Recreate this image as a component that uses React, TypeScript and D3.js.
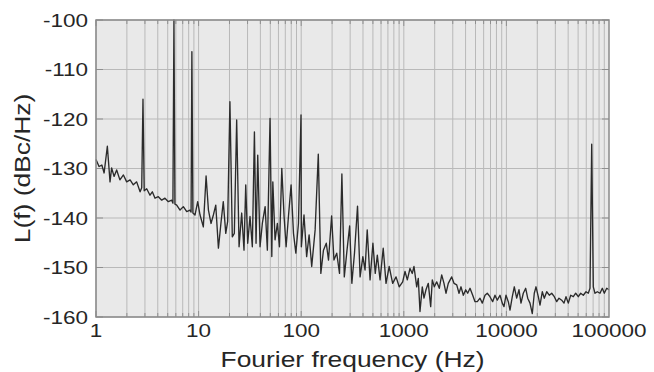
import React from "react";
import * as d3 from "d3";

// phase noise trace as [Hz, dBc/Hz], one decade per array
const decade1 = [
  [1.0, -128.2], [1.07, -129.6], [1.14, -129.3], [1.2, -130.9], [1.29, -125.5],
  [1.37, -132.7], [1.42, -129.9], [1.5, -131.6], [1.59, -130.3], [1.71, -132.3],
  [1.85, -131.3], [1.99, -132.7], [2.15, -132.3], [2.31, -133.3], [2.49, -132.7],
  [2.69, -134.7], [2.79, -133.9], [2.87, -116.0], [2.95, -134.5], [3.12, -134.1],
  [3.36, -135.4], [3.54, -134.7], [3.76, -136.0], [4.05, -135.7], [4.37, -136.4],
  [4.7, -136.0], [5.07, -136.7], [5.47, -136.4], [5.62, -137.0], [5.75, -100.0],
  [5.88, -137.2], [6.12, -137.4], [6.59, -138.4], [7.1, -137.7], [7.66, -138.7],
  [8.25, -138.4], [8.45, -138.8], [8.6, -106.4], [8.8, -139.0], [9.22, -139.4],
  [9.8, -136.7],
];
const decade2 = [
  [10.33, -139.4], [11.12, -141.8], [11.83, -131.5], [12.47, -138.4], [13.21, -141.1],
  [13.93, -139.4], [14.7, -137.4], [15.6, -146.1], [16.5, -141.1], [17.4, -136.7],
  [18.4, -143.1], [19.2, -140.7], [20.2, -116.5], [21.3, -143.8], [22.3, -143.1],
  [23.5, -120.2], [24.8, -145.8], [26.3, -139.0], [27.7, -146.5], [28.8, -133.3],
  [30.1, -145.1], [31.7, -139.7], [33.4, -145.8], [35.0, -122.6], [36.3, -145.1],
  [37.7, -127.3], [39.7, -145.8], [41.8, -141.1], [44.5, -137.7], [46.8, -146.5],
  [49.7, -119.9], [51.7, -147.8], [52.9, -132.7], [55.6, -144.4], [58.6, -141.1],
  [61.4, -145.8], [64.7, -130.0], [68.1, -139.7], [71.3, -145.8], [75.1, -139.7],
  [79.7, -133.3], [84.1, -143.1], [88.7, -147.1], [94.0, -141.1], [99.6, -119.2],
];
const decade3 = [
  [100.4, -145.8], [106.5, -139.4], [113, -147.8], [119.4, -143.4], [126.6, -149.8],
  [136.7, -142.4], [146.8, -127.1], [155.4, -151.2], [164.8, -146.5], [175.6, -145.1],
  [184.6, -148.5], [197.9, -139.6], [208.5, -148.5], [222, -147.1], [236.3, -151.2],
  [249.2, -131.1], [263, -151.9], [279.6, -146.5], [296.7, -141.6], [311.7, -153.2],
  [330.6, -147.1], [354, -137.6], [375, -151.9], [399, -147.8], [419, -150.5],
  [440, -142.4], [469, -152.5], [500, -145.1], [527, -151.2], [552, -147.5],
  [587, -152.5], [630, -146.1], [671, -153.2], [720, -149.8], [779, -153.2],
  [840, -151.9], [902, -153.9],
];
const decade4 = [
  [975, -152.9], [1028, -150.8], [1082, -152.5], [1149, -150.2], [1210, -151.2],
  [1257, -149.8], [1336, -153.9], [1384, -152.2], [1438, -158.9], [1514, -153.9],
  [1573, -156.2], [1645, -154.5], [1733, -153.2], [1828, -157.9], [1896, -152.5],
  [1983, -153.9], [2092, -152.9], [2218, -154.2], [2341, -151.5], [2464, -153.2],
  [2577, -155.2], [2714, -153.2], [2930, -151.9], [3085, -153.2], [3279, -153.5],
  [3453, -155.2], [3612, -153.9], [3805, -155.6], [4012, -154.5], [4194, -155.2],
  [4420, -154.2], [4694, -155.6], [4945, -156.9], [5207, -156.9], [5530, -156.2],
  [5826, -157.2], [6187, -155.6], [6510, -155.2], [6914, -155.9], [7344, -156.9],
  [7738, -155.6], [8153, -156.6], [8660, -155.6], [9120, -157.2], [9476, -157.9],
];
const decade5 = [
  [9911, -155.6], [10435, -156.9], [10842, -158.6], [11416, -155.9], [11940, -153.9],
  [12600, -156.2], [13270, -154.5], [13880, -157.2], [14610, -155.2], [15420, -154.2],
  [16130, -156.2], [16980, -157.2], [17880, -159.3], [18700, -155.2], [19430, -153.9],
  [20460, -155.9], [21260, -157.6], [22380, -154.9], [23410, -156.2], [24710, -154.9],
  [26190, -155.6], [27640, -155.2], [29310, -155.9], [30930, -156.9], [32560, -156.2],
  [34590, -156.6], [36420, -157.2], [38090, -155.9], [40120, -157.2], [42330, -155.6],
  [44870, -155.9], [47360, -155.2], [50210, -155.9], [53000, -155.2], [56180, -155.6],
  [59690, -154.9], [62850, -155.2], [65280, -154.2], [67830, -125.1], [70310, -153.9],
  [73040, -155.2], [76910, -154.9], [81700, -155.2], [86050, -154.2], [90000, -155.2],
  [94970, -154.2], [100000, -154.5],
];

const xTicks = [1, 10, 100, 1000, 10000, 100000];
const yTicks = [-160, -150, -140, -130, -120, -110, -100];

const W = 654;
const H = 372;
const margin = { top: 20, right: 45, bottom: 55, left: 96 };

const font = "'Liberation Sans', Arial, sans-serif";

export default function App() {
  const data = [...decade1, ...decade2, ...decade3, ...decade4, ...decade5];

  const x = d3.scaleLog().domain([1, 100000]).range([margin.left, W - margin.right]);
  const y = d3.scaleLinear().domain([-160, -100]).range([H - margin.bottom, margin.top]);

  const line = d3
    .line<number[]>()
    .x((d) => x(d[0]))
    .y((d) => y(d[1]));

  // minor grid: 1..9 in each decade
  const minor: number[] = [];
  for (let e = 0; e < 5; e++) {
    for (let k = 1; k <= 9; k++) minor.push(k * Math.pow(10, e));
  }

  const [x0, x1] = x.range();
  const [y0, y1] = y.range();

  return (
    <svg
      width={W}
      height={H}
      style={{ position: "absolute", left: 0, top: 0, display: "block" }}
      fontFamily={font}
    >
      <rect x={x0} y={y1} width={x1 - x0} height={y0 - y1} fill="#e9e9e9" />

      {/* grid */}
      {minor.map((f) => (
        <line key={"g" + f} x1={x(f)} x2={x(f)} y1={y1} y2={y0} stroke="#b9b9b9" strokeWidth={1} />
      ))}
      {yTicks.map((v) => (
        <line key={"h" + v} x1={x0} x2={x1} y1={y(v)} y2={y(v)} stroke="#b9b9b9" strokeWidth={1} />
      ))}

      {/* small ticks inside the frame */}
      {minor.map((f) => {
        const len = xTicks.includes(f) ? 6 : 4;
        return (
          <g key={"t" + f} stroke="#8f8f8f" strokeWidth={1}>
            <line x1={x(f)} x2={x(f)} y1={y1} y2={y1 + len} />
            <line x1={x(f)} x2={x(f)} y1={y0} y2={y0 - len} />
          </g>
        );
      })}
      {yTicks.map((v) => (
        <g key={"ty" + v} stroke="#8f8f8f" strokeWidth={1}>
          <line x1={x0} x2={x0 + 7} y1={y(v)} y2={y(v)} />
          <line x1={x1} x2={x1 - 7} y1={y(v)} y2={y(v)} />
        </g>
      ))}

      <path d={line(data) || ""} fill="none" stroke="#2b2b2b" strokeWidth={1.35} strokeLinejoin="round" />

      <rect x={x0} y={y1} width={x1 - x0} height={y0 - y1} fill="none" stroke="#8a8a8a" strokeWidth={1.5} />

      {/* tick labels */}
      {yTicks.map((v) => (
        <text
          key={"yl" + v}
          transform={`translate(${x0 - 8},${y(v) + 6.5}) scale(1.25,1)`}
          textAnchor="end"
          fontSize={18}
          fill="#262626"
        >
          {v}
        </text>
      ))}
      {xTicks.map((f) => (
        <text
          key={"xl" + f}
          transform={`translate(${x(f)},337) scale(1.25,1)`}
          textAnchor="middle"
          fontSize={18}
          fill="#262626"
        >
          {f}
        </text>
      ))}

      <text
        transform={`translate(${(x0 + x1) / 2},367) scale(1.2,1)`}
        textAnchor="middle"
        fontSize={22}
        fill="#262626"
      >
        Fourier frequency (Hz)
      </text>
      <text
        transform={`translate(30,${(y0 + y1) / 2}) rotate(-90) scale(1.2,1)`}
        textAnchor="middle"
        fontSize={22}
        fill="#262626"
      >
        L(f) (dBc/Hz)
      </text>
    </svg>
  );
}
